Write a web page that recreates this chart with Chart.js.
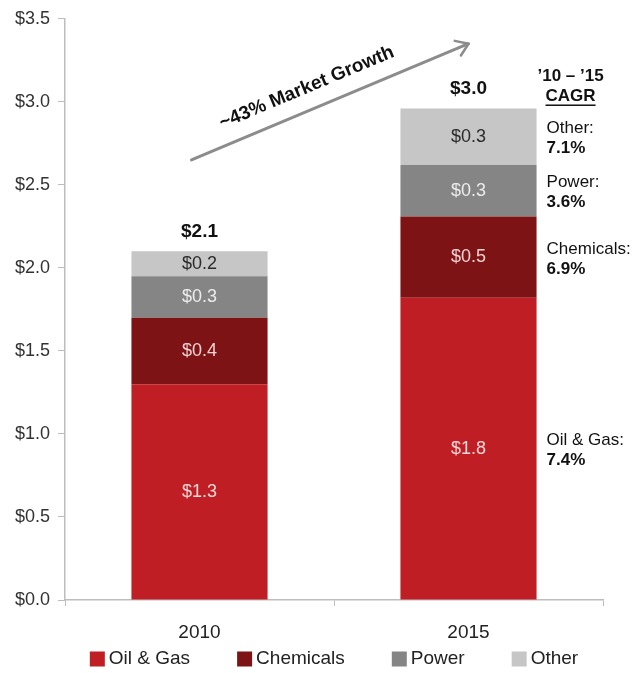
<!DOCTYPE html>
<html lang="en">
<head>
<meta charset="UTF-8">
<title>Market Size by End Use, 2010 vs 2015</title>
<script src="https://cdn.jsdelivr.net/npm/chart.js"></script>
<style>
  html, body { margin: 0; padding: 0; background: #fff; }
  #wrap { width: 634px; height: 673px; }
</style>
</head>
<body>
<div id="wrap"><canvas id="market-chart" width="634" height="673"></canvas></div>

<script>
// Market size ($B) by end-use segment
const years = ['2010', '2015'];
const segments = ['Oil & Gas', 'Chemicals', 'Power', 'Other'];
const oilGas = [1.3, 1.82];
const chemicals = [0.4, 0.49];
const power = [0.25, 0.31];
const other = [0.15, 0.34];

// '10 - '15 CAGR per segment, same order as segments
const cagr = ['7.4%', '6.9%', '3.6%', '7.1%'];

// y axis range
const yMin = 0;
const yMax = 3.5;
const yStep = 0.5;

const growthLabel = '~43% Market Growth';

const FONT = "'Liberation Sans', Arial, sans-serif";
const barColors = ['#bf1e24', '#7e1315', '#858585', '#c6c6c6'];
const valueColors = ['#f6d9d9', '#f0d2d2', '#ececec', '#2b2b2b'];

// $ value inside each segment and the total above each stack
const segmentLabels = {
    id: 'segmentLabels',
    afterDatasetsDraw(chart) {
        const ctx = chart.ctx;
        const sets = chart.data.datasets;
        ctx.save();
        ctx.textAlign = 'center';
        ctx.textBaseline = 'middle';
        ctx.font = '18px ' + FONT;
        sets.forEach((ds, i) => {
            chart.getDatasetMeta(i).data.forEach((bar, j) => {
                const v = Math.round(ds.data[j] * 10) / 10;
                ctx.fillStyle = valueColors[i];
                ctx.fillText('$' + v.toFixed(1), bar.x, (bar.y + bar.base) / 2);
            });
        });

        ctx.font = 'bold 19px ' + FONT;
        ctx.fillStyle = '#111';
        const tops = chart.getDatasetMeta(sets.length - 1).data;
        years.forEach((yr, j) => {
            const total = sets.reduce((s, ds) => s + ds.data[j], 0);
            const t = Math.round(total * 10) / 10;
            ctx.fillText('$' + t.toFixed(1), tops[j].x, tops[j].y - 20);
        });
        ctx.restore();
    }
};

// CAGR notes to the right of the last bar
const cagrNotes = {
    id: 'cagrNotes',
    afterDatasetsDraw(chart) {
        const ctx = chart.ctx;
        const last = years.length - 1;
        const bars = chart.data.datasets.map((d, i) => chart.getDatasetMeta(i).data[last]);
        const right = bars[0].x + bars[0].width / 2;
        const topY = bars[bars.length - 1].y;
        const hx = right + 34;

        ctx.save();
        ctx.fillStyle = '#111';
        ctx.textBaseline = 'middle';
        ctx.textAlign = 'center';
        ctx.font = 'bold 17px ' + FONT;
        ctx.fillText('\u201910 \u2013 \u201915', hx, topY - 32);
        ctx.fillText('CAGR', hx, topY - 12);
        const w = ctx.measureText('CAGR').width;
        ctx.fillRect(hx - w / 2, topY - 12 + 8, w, 1.5);

        ctx.textAlign = 'left';
        segments.forEach((name, i) => {
            const cy = (bars[i].y + bars[i].base) / 2 + 2;
            ctx.font = '17px ' + FONT;
            ctx.fillText(name + ':', right + 10, cy - 10);
            ctx.font = 'bold 17px ' + FONT;
            ctx.fillText(cagr[i], right + 10, cy + 10);
        });
        ctx.restore();
    }
};

// growth arrow between the two bars
const growthArrow = {
    id: 'growthArrow',
    afterDatasetsDraw(chart) {
        const { ctx, scales: { x, y } } = chart;
        const x0 = x.getPixelForValue(0) - 8, y0 = y.getPixelForValue(2.65);
        const x1 = x.getPixelForValue(1), y1 = y.getPixelForValue(3.35);
        const ang = Math.atan2(y1 - y0, x1 - x0);

        ctx.save();
        ctx.strokeStyle = '#8c8c8c';
        ctx.lineWidth = 3;
        ctx.lineCap = 'round';
        ctx.lineJoin = 'round';
        ctx.beginPath();
        ctx.moveTo(x0, y0);
        ctx.lineTo(x1, y1);
        ctx.stroke();

        const hl = 14, spread = 0.6;
        ctx.lineWidth = 2.5;
        ctx.beginPath();
        ctx.moveTo(x1 - hl * Math.cos(ang - spread), y1 - hl * Math.sin(ang - spread));
        ctx.lineTo(x1, y1);
        ctx.lineTo(x1 - hl * Math.cos(ang + spread), y1 - hl * Math.sin(ang + spread));
        ctx.stroke();

        ctx.translate((x0 + x1) / 2, (y0 + y1) / 2);
        ctx.rotate(ang);
        ctx.font = 'bold 19px ' + FONT;
        ctx.fillStyle = '#111';
        ctx.textAlign = 'center';
        ctx.textBaseline = 'middle';
        ctx.fillText(growthLabel, -16, -22);
        ctx.restore();
    }
};

// one-row legend under the axis, centred on the plot area
const bottomLegend = {
    id: 'bottomLegend',
    afterDraw(chart) {
        const ctx = chart.ctx;
        const { left, right } = chart.chartArea;
        const box = 15, gap = 4, spacing = 47, y = 659;
        ctx.save();
        ctx.font = '19px ' + FONT;
        const items = chart.data.datasets.map(ds => ({
            text: ds.label,
            color: ds.backgroundColor,
            w: box + gap + ctx.measureText(ds.label).width
        }));
        const total = items.reduce((s, it) => s + it.w, 0) + spacing * (items.length - 1);
        let x = (left + right) / 2 - total / 2;
        ctx.textAlign = 'left';
        ctx.textBaseline = 'middle';
        items.forEach(it => {
            ctx.fillStyle = it.color;
            ctx.fillRect(x, y - box / 2, box, box);
            ctx.fillStyle = '#222';
            ctx.fillText(it.text, x + box + gap, y);
            x += it.w + spacing;
        });
        ctx.restore();
    }
};

const series = [oilGas, chemicals, power, other];

const ctx = document.getElementById('market-chart').getContext('2d');
new Chart(ctx, {
    type: 'bar',
    data: {
        labels: years,
        datasets: segments.map((name, i) => ({
            label: name,
            data: series[i],
            backgroundColor: barColors[i],
            borderWidth: 0
        }))
    },
    options: {
        responsive: false,
        animation: false,
        devicePixelRatio: 1,
        layout: { padding: { left: 0, right: 31, top: 18, bottom: 0 } },
        datasets: { bar: { barPercentage: 0.506, categoryPercentage: 1 } },
        plugins: {
            legend: { display: false },
            tooltip: { enabled: false }
        },
        scales: {
            x: {
                stacked: true,
                grid: { drawOnChartArea: false, tickLength: 6, color: '#bdbdbd' },
                border: { color: '#bdbdbd', width: 1.5 },
                ticks: { color: '#222', padding: 15, font: { size: 19, family: FONT } },
                afterFit(scale) { scale.height = 73; }
            },
            y: {
                stacked: true,
                min: yMin,
                max: yMax,
                ticks: {
                    stepSize: yStep,
                    padding: 8,
                    color: '#333',
                    font: { size: 18, family: FONT },
                    callback: v => '$' + v.toFixed(1)
                },
                grid: { drawOnChartArea: false, tickLength: 7, color: '#bdbdbd' },
                border: { color: '#bdbdbd', width: 1.5 },
                afterFit(scale) { scale.width = 65; }
            }
        }
    },
    plugins: [segmentLabels, cagrNotes, growthArrow, bottomLegend]
});
</script>
</body>
</html>
